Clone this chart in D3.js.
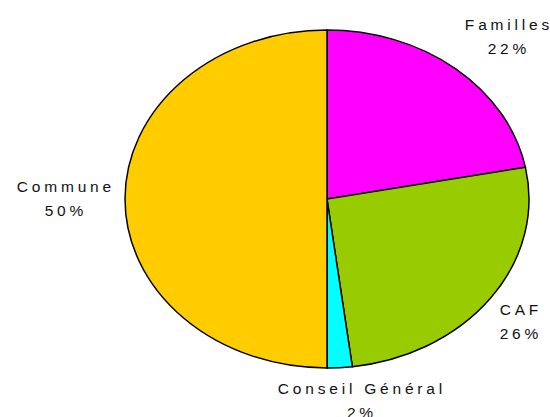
<!DOCTYPE html>
<html>
<head>
<meta charset="utf-8">
<script src="https://cdn.jsdelivr.net/npm/d3@7"></script>
<style>
  body { margin: 0; background: #fff; }
  text { font-family: Arial, "Liberation Sans", sans-serif; font-size: 15.5px; fill: #111; letter-spacing: 3.8px; }
</style>
</head>
<body>
<div id="chart"></div>
<script>
// financement - parts
var categories = ["Familles", "CAF", "Conseil Général", "Commune"];
var values = [22, 26, 2, 50];
var colors = ["#FF00FF", "#99CC00", "#00FFFF", "#FFCC00"];

var width = 550, height = 417;
var cx = 327, cy = 199, rx = 202, ry = 169;
var spacing = 3.8;

// where the labels sit (baseline of first line, centre x)
var labelAnchors = {
    "Familles": [507, 30],
    "CAF": [519, 315],
    "Conseil Général": [360, 394],
    "Commune": [64, 192]
};

var svg = d3.select("#chart").append("svg")
    .attr("width", width)
    .attr("height", height);

var pie = d3.pie().sort(null).value(d => d.value);
var arc = d3.arc().innerRadius(0).outerRadius(ry);

var data = categories.map((c, i) => ({ name: c, value: values[i], color: colors[i] }));
var total = d3.sum(values);

var pieGroup = svg.append("g")
    .attr("transform", "translate(" + cx + "," + cy + ") scale(" + (rx / ry) + ",1)");

pieGroup.selectAll("path")
    .data(pie(data))
    .enter().append("path")
    .attr("d", arc)
    .attr("fill", d => d.data.color)
    .attr("stroke", "#000")
    .attr("stroke-width", 1.5)
    .attr("vector-effect", "non-scaling-stroke");

var labels = svg.selectAll("g.label")
    .data(data)
    .enter().append("g")
    .attr("class", "label")
    .attr("transform", d => "translate(" + labelAnchors[d.name][0] + "," + labelAnchors[d.name][1] + ")");

// letter-spacing adds a trailing gap, shift by half of it to keep glyphs centred
labels.append("text")
    .attr("text-anchor", "middle")
    .attr("dx", spacing / 2)
    .text(d => d.name);

labels.append("text")
    .attr("text-anchor", "middle")
    .attr("dx", spacing / 2)
    .attr("y", 24)
    .text(d => Math.round(d.value / total * 100) + "%");
</script>
</body>
</html>
